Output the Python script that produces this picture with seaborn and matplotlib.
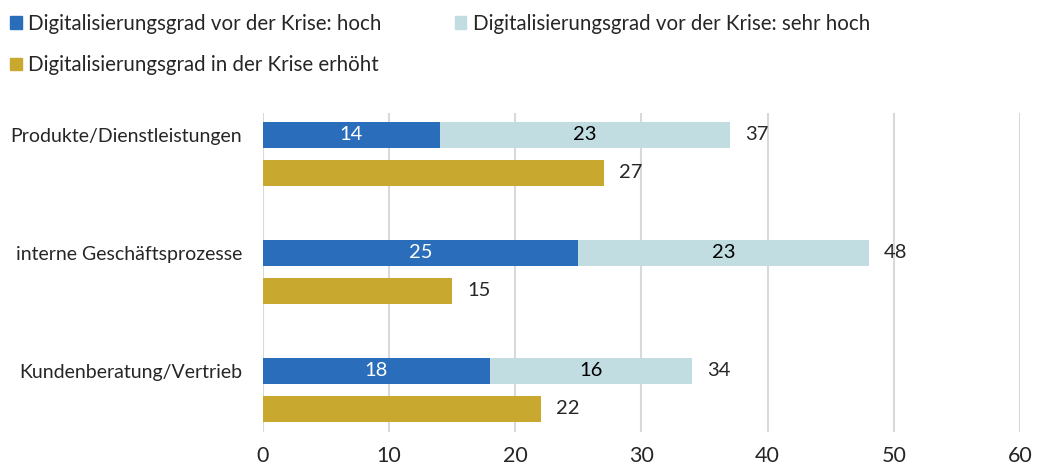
import matplotlib.pyplot as plt
import matplotlib.patches as mpatches
import seaborn as sns
import pandas as pd

categories = ["Produkte/Dienstleistungen", "interne Geschäftsprozesse", "Kundenberatung/Vertrieb"]
hoch = [14, 25, 18]
sehr_hoch = [23, 23, 16]
erhoeht = [27, 15, 22]

lbl_hoch = "Digitalisierungsgrad vor der Krise: hoch"
lbl_sehr = "Digitalisierungsgrad vor der Krise: sehr hoch"
lbl_erh = "Digitalisierungsgrad in der Krise erhöht"

c_hoch = "#2a6ebb"
c_sehr = "#c1dde2"
c_erh = "#c8a82f"

sns.set_theme(style="white")
plt.rcParams["font.family"] = ["Lato", "DejaVu Sans"]
fs = 14.5

totals = [a + b for a, b in zip(hoch, sehr_hoch)]
hue_order = ["vor", "erh"]

df_top = pd.DataFrame({
    "cat": categories * 2,
    "series": ["vor"] * 3 + ["erh"] * 3,
    "value": totals + erhoeht,
})
df_hoch = pd.DataFrame({
    "cat": categories * 2,
    "series": ["vor"] * 3 + ["erh"] * 3,
    "value": hoch + erhoeht,
})

fig = plt.figure(figsize=(10.37, 4.65), dpi=100)
ax = fig.add_axes([0.2536, 0.071, 0.73, 0.686])

bar_kw = dict(x="value", y="cat", hue="series", hue_order=hue_order, orient="h",
              width=0.644, gap=0.316, errorbar=None, legend=False, ax=ax,
              saturation=1, linewidth=0)
sns.barplot(data=df_top, palette={"vor": c_sehr, "erh": c_erh}, **bar_kw)
sns.barplot(data=df_hoch, palette={"vor": c_hoch, "erh": c_erh}, **bar_kw)

cont_total, cont_erh, cont_hoch = ax.containers[0], ax.containers[1], ax.containers[2]
ax.bar_label(cont_total, labels=[str(v) for v in totals], padding=11, fontsize=fs)
ax.bar_label(cont_erh, labels=[str(v) for v in erhoeht], padding=11, fontsize=fs)
ax.bar_label(cont_hoch, labels=[str(v) for v in hoch], label_type="center",
             color="white", fontsize=fs)
for patch, h, s in zip(cont_hoch, hoch, sehr_hoch):
    y = patch.get_y() + patch.get_height() / 2
    ax.text(h + s / 2, y, str(s), ha="center", va="center", fontsize=fs, color="black")

# category labels sit beside the upper (blue) bar of each pair
ax.set_yticks([p.get_y() + p.get_height() / 2 for p in cont_hoch], labels=categories)

ax.set_xlim(0, 60)
ax.set_ylim(2.356, -0.347)
ax.set_xticks(range(0, 61, 10))
ax.grid(axis="x", color="#d9d9d9", linewidth=1.5)
ax.grid(axis="y", visible=False)
ax.set_axisbelow(True)
for sp in ax.spines.values():
    sp.set_visible(False)
ax.set_xlabel("")
ax.set_ylabel("")
ax.tick_params(axis="x", length=0, pad=10, labelsize=15.5)
ax.tick_params(axis="y", length=0, pad=15, labelsize=14)

handles = [mpatches.Patch(color=c_hoch, label=lbl_hoch),
           mpatches.Patch(color=c_erh, label=lbl_erh),
           mpatches.Patch(color=c_sehr, label=lbl_sehr)]
fig.legend(handles=handles, ncol=2, loc="upper left", bbox_to_anchor=(-0.008, 1.01),
           frameon=False, fontsize=14.8, handlelength=0.55, handleheight=0.55,
           handletextpad=0.3, labelspacing=1.05, columnspacing=3.6)

fig.savefig("out.png", dpi=100)
